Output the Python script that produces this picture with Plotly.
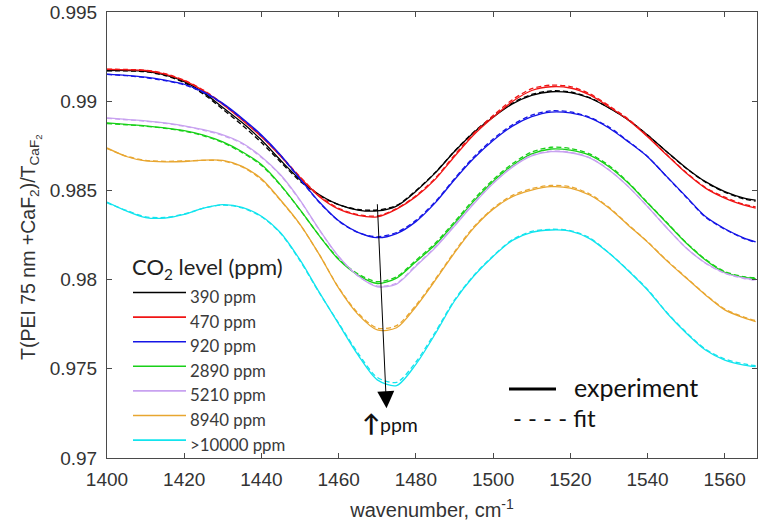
import plotly.graph_objects as go

# Wavenumber grid (cm^-1) at which the transmission ratios were read
wavenumber = [1400, 1405, 1410, 1415, 1420, 1425, 1430, 1435, 1440, 1445, 1450, 1455,
              1460, 1465, 1470, 1475, 1480, 1485, 1490, 1495, 1500, 1505, 1510, 1515,
              1520, 1525, 1530, 1535, 1540, 1545, 1550, 1555, 1560, 1565, 1568]

levels = ["390 ppm", "470 ppm", "920 ppm", "2890 ppm", "5210 ppm", "8940 ppm", ">10000 ppm"]
colors = ["#000000", "#f01515", "#1515e6", "#18d018", "#c8a2f0", "#e8a630", "#12e4ee"]

# Measured T(PEI + CaF2) / T(CaF2)
exp_390 = [0.99172, 0.99172, 0.99168, 0.99148, 0.99110, 0.99048, 0.98965, 0.98880, 0.98782, 0.98668, 0.98560, 0.98476,
           0.98420, 0.98390, 0.98385, 0.98412, 0.98495, 0.98598, 0.98718, 0.98825, 0.98910, 0.98985, 0.99033, 0.99053,
           0.99048, 0.99018, 0.98962, 0.98895, 0.98811, 0.98717, 0.98626, 0.98549, 0.98493, 0.98457, 0.98446]
exp_470 = [0.99178, 0.99176, 0.99172, 0.99152, 0.99115, 0.99058, 0.98982, 0.98895, 0.98800, 0.98690, 0.98572, 0.98465,
           0.98395, 0.98360, 0.98352, 0.98395, 0.98465, 0.98562, 0.98690, 0.98812, 0.98910, 0.98998, 0.99060, 0.99081,
           0.99074, 0.99035, 0.98969, 0.98895, 0.98801, 0.98698, 0.98597, 0.98513, 0.98457, 0.98418, 0.98401]
exp_920 = [0.99152, 0.99145, 0.99135, 0.99118, 0.99095, 0.99052, 0.98988, 0.98905, 0.98811, 0.98698, 0.98565, 0.98435,
           0.98330, 0.98265, 0.98235, 0.98258, 0.98325, 0.98430, 0.98560, 0.98680, 0.98780, 0.98860, 0.98913, 0.98939,
           0.98934, 0.98906, 0.98850, 0.98773, 0.98689, 0.98577, 0.98465, 0.98353, 0.98285, 0.98233, 0.98212]
exp_2890 = [0.98878, 0.98870, 0.98862, 0.98850, 0.98835, 0.98810, 0.98772, 0.98717, 0.98645, 0.98530, 0.98392, 0.98245,
            0.98112, 0.98025, 0.97978, 0.98008, 0.98100, 0.98195, 0.98315, 0.98440, 0.98550, 0.98640, 0.98705, 0.98732,
            0.98726, 0.98698, 0.98633, 0.98541, 0.98429, 0.98317, 0.98205, 0.98110, 0.98040, 0.98012, 0.98005]
exp_5210 = [0.98906, 0.98898, 0.98890, 0.98878, 0.98862, 0.98840, 0.98811, 0.98766, 0.98689, 0.98586, 0.98446, 0.98280,
            0.98130, 0.98022, 0.97960, 0.97975, 0.98075, 0.98178, 0.98300, 0.98425, 0.98538, 0.98630, 0.98693, 0.98717,
            0.98711, 0.98682, 0.98614, 0.98521, 0.98409, 0.98289, 0.98177, 0.98093, 0.98037, 0.98009, 0.97998]
exp_8940 = [0.98738, 0.98690, 0.98665, 0.98660, 0.98662, 0.98670, 0.98668, 0.98635, 0.98565, 0.98445, 0.98310, 0.98140,
            0.97952, 0.97805, 0.97718, 0.97730, 0.97848, 0.97995, 0.98150, 0.98290, 0.98395, 0.98465, 0.98502, 0.98521,
            0.98513, 0.98474, 0.98401, 0.98305, 0.98210, 0.98105, 0.98009, 0.97914, 0.97830, 0.97785, 0.97764]
exp_10000 = [0.98435, 0.98385, 0.98348, 0.98345, 0.98365, 0.98400, 0.98420, 0.98405, 0.98355, 0.98261, 0.98110, 0.97928,
             0.97752, 0.97578, 0.97438, 0.97406, 0.97525, 0.97695, 0.97880, 0.98020, 0.98130, 0.98220, 0.98265, 0.98278,
             0.98272, 0.98230, 0.98149, 0.98050, 0.97942, 0.97813, 0.97701, 0.97605, 0.97549, 0.97521, 0.97512]

# Model fits
fit_390 = [0.99170, 0.99170, 0.99165, 0.99144, 0.99104, 0.99040, 0.98955, 0.98866, 0.98768, 0.98658, 0.98552, 0.98472,
           0.98420, 0.98393, 0.98390, 0.98416, 0.98498, 0.98600, 0.98720, 0.98828, 0.98914, 0.98990, 0.99038, 0.99058,
           0.99052, 0.99020, 0.98964, 0.98896, 0.98810, 0.98716, 0.98624, 0.98546, 0.98490, 0.98452, 0.98440]
fit_470 = [0.99180, 0.99178, 0.99174, 0.99155, 0.99118, 0.99062, 0.98986, 0.98900, 0.98805, 0.98695, 0.98576, 0.98470,
           0.98400, 0.98364, 0.98357, 0.98398, 0.98470, 0.98568, 0.98698, 0.98820, 0.98920, 0.99008, 0.99070, 0.99090,
           0.99082, 0.99042, 0.98975, 0.98900, 0.98805, 0.98700, 0.98600, 0.98516, 0.98462, 0.98422, 0.98408]
fit_920 = [0.99150, 0.99143, 0.99132, 0.99115, 0.99092, 0.99048, 0.98984, 0.98900, 0.98806, 0.98694, 0.98562, 0.98432,
           0.98328, 0.98264, 0.98240, 0.98264, 0.98332, 0.98436, 0.98566, 0.98688, 0.98788, 0.98868, 0.98922, 0.98946,
           0.98940, 0.98910, 0.98855, 0.98776, 0.98690, 0.98576, 0.98462, 0.98350, 0.98282, 0.98230, 0.98208]
fit_2890 = [0.98875, 0.98868, 0.98860, 0.98848, 0.98832, 0.98806, 0.98768, 0.98712, 0.98640, 0.98527, 0.98390, 0.98246,
            0.98116, 0.98032, 0.97988, 0.98016, 0.98108, 0.98204, 0.98324, 0.98450, 0.98560, 0.98650, 0.98715, 0.98742,
            0.98735, 0.98705, 0.98640, 0.98545, 0.98432, 0.98320, 0.98208, 0.98114, 0.98045, 0.98016, 0.98010]
fit_5210 = [0.98904, 0.98896, 0.98888, 0.98876, 0.98860, 0.98837, 0.98808, 0.98762, 0.98685, 0.98583, 0.98443, 0.98278,
            0.98128, 0.98020, 0.97964, 0.97980, 0.98080, 0.98183, 0.98306, 0.98430, 0.98542, 0.98634, 0.98697, 0.98720,
            0.98714, 0.98684, 0.98616, 0.98522, 0.98410, 0.98290, 0.98178, 0.98092, 0.98035, 0.98006, 0.97995]
fit_8940 = [0.98735, 0.98692, 0.98668, 0.98663, 0.98665, 0.98668, 0.98665, 0.98632, 0.98560, 0.98442, 0.98308, 0.98140,
            0.97955, 0.97812, 0.97728, 0.97742, 0.97856, 0.98002, 0.98156, 0.98296, 0.98400, 0.98472, 0.98510, 0.98528,
            0.98520, 0.98480, 0.98405, 0.98308, 0.98212, 0.98108, 0.98012, 0.97917, 0.97835, 0.97790, 0.97770]
fit_10000 = [0.98430, 0.98388, 0.98352, 0.98348, 0.98368, 0.98400, 0.98418, 0.98402, 0.98352, 0.98258, 0.98105, 0.97925,
             0.97756, 0.97588, 0.97452, 0.97424, 0.97538, 0.97705, 0.97886, 0.98024, 0.98133, 0.98224, 0.98270, 0.98282,
             0.98275, 0.98234, 0.98150, 0.98052, 0.97945, 0.97816, 0.97705, 0.97610, 0.97555, 0.97527, 0.97518]

experiment = [exp_390, exp_470, exp_920, exp_2890, exp_5210, exp_8940, exp_10000]
fits = [fit_390, fit_470, fit_920, fit_2890, fit_5210, fit_8940, fit_10000]

x_ticks = [1400, 1420, 1440, 1460, 1480, 1500, 1520, 1540, 1560]
y_ticks = [0.97, 0.975, 0.98, 0.985, 0.99, 0.995]
y_ticktext = ["0.97", "0.975", "0.98", "0.985", "0.99", "0.995"]

# Arrow marking the growth of the dip with CO2 concentration
arrow_tail = (1470.0, 0.98431)
arrow_tip = (1472.4, 0.97279)

AXIS_COLOR = "#4a4a4a"
TEXT_COLOR = "#333333"
AXIS_FONT = "Liberation Sans, Arial, sans-serif"
TICK_FONT = dict(family=AXIS_FONT, size=19, color=TEXT_COLOR)
LABEL_FONT = "Lato, Open Sans, sans-serif"

fig = go.Figure()
for name, color, y_exp, y_fit in zip(levels, colors, experiment, fits):
    fig.add_trace(go.Scatter(
        x=wavenumber, y=y_exp, mode="lines", name=name, showlegend=False,
        line=dict(color=color, width=1.3, shape="spline", smoothing=0.8)))
    fig.add_trace(go.Scatter(
        x=wavenumber, y=y_fit, mode="lines", name=name + " fit", showlegend=False,
        line=dict(color=color, width=1.3, dash="5px,3px", shape="spline", smoothing=0.8)))

# plot area in pixels: x 107..757, y 12..458
L, R, T, B = 107, 757, 12, 458


def px(xp):
    return (xp - L) / (R - L)


def py(yp):
    return (B - yp) / (B - T)


shapes = []
annotations = []

# y-axis title, rotated
annotations.append(dict(
    x=px(30), y=py(247), xref="paper", yref="paper", xanchor="center", yanchor="middle",
    text="T(PEI 75 nm +CaF<sub>2</sub>)/T<sub>CaF<sub>2</sub></sub>", textangle=-90, showarrow=False,
    font=dict(family=AXIS_FONT, size=19.5, color=TEXT_COLOR)))

# CO2 legend
annotations.append(dict(
    x=px(130), y=py(268), xref="paper", yref="paper", xanchor="left", yanchor="middle",
    text="CO<sub>2</sub> level (ppm)", showarrow=False,
    font=dict(family=LABEL_FONT, size=22, color="#222222")))
for i, (name, color) in enumerate(zip(levels, colors)):
    y_line = 292.5 + i * 24.6
    shapes.append(dict(type="line", xref="paper", yref="paper",
                       x0=px(133), x1=px(186), y0=py(y_line), y1=py(y_line),
                       line=dict(color=color, width=1.6)))
    annotations.append(dict(
        x=px(188), y=py(y_line + 4), xref="paper", yref="paper", xanchor="left", yanchor="middle",
        text=name, showarrow=False, font=dict(family=LABEL_FONT, size=16.8, color="#3a3a3a")))

# line-style legend
shapes.append(dict(type="line", xref="paper", yref="paper",
                   x0=px(509), x1=px(556), y0=py(389), y1=py(389),
                   line=dict(color="#000000", width=3)))
annotations.append(dict(
    x=px(572), y=py(387), xref="paper", yref="paper", xanchor="left", yanchor="middle",
    text="experiment", showarrow=False, font=dict(family=LABEL_FONT, size=25, color="#111111")))
annotations.append(dict(
    x=px(511), y=py(417), xref="paper", yref="paper", xanchor="left", yanchor="middle",
    text="- - - - fit", showarrow=False, font=dict(family=LABEL_FONT, size=24, color="#111111")))

# concentration arrow and its label
annotations.append(dict(
    x=arrow_tip[0], y=arrow_tip[1], ax=arrow_tail[0], ay=arrow_tail[1],
    xref="x", yref="y", axref="x", ayref="y", text="", showarrow=True,
    arrowhead=2, arrowsize=3.4, arrowwidth=1, arrowcolor="#000000", standoff=0))
annotations.append(dict(
    x=px(360), y=py(422), xref="paper", yref="paper", xanchor="left", yanchor="middle",
    text="<span style='font-size:24px'><b>↑</b></span>ppm", showarrow=False,
    font=dict(family=LABEL_FONT, size=19.5, color="#111111")))

axis_common = dict(
    showline=True, linecolor=AXIS_COLOR, linewidth=1, mirror="ticks",
    ticks="inside", ticklen=5, tickcolor=AXIS_COLOR, tickwidth=1,
    showgrid=False, zeroline=False, tickfont=TICK_FONT)

fig.update_layout(
    width=758, height=525,
    margin=dict(l=L, r=758 - R, t=T, b=525 - B, autoexpand=False),
    paper_bgcolor="white", plot_bgcolor="white",
    showlegend=False,
    shapes=shapes, annotations=annotations,
    xaxis=dict(range=[1400, 1568.35], tickvals=x_ticks,
               ticklabelstandoff=4,
               title=dict(text="wavenumber, cm<sup>-1</sup>", standoff=14,
                          font=dict(family=AXIS_FONT, size=20, color=TEXT_COLOR)),
               **axis_common),
    yaxis=dict(range=[0.97, 0.995], tickvals=y_ticks, ticktext=y_ticktext,
               ticklabelstandoff=5, **axis_common),
)

fig.write_html("out.html")
